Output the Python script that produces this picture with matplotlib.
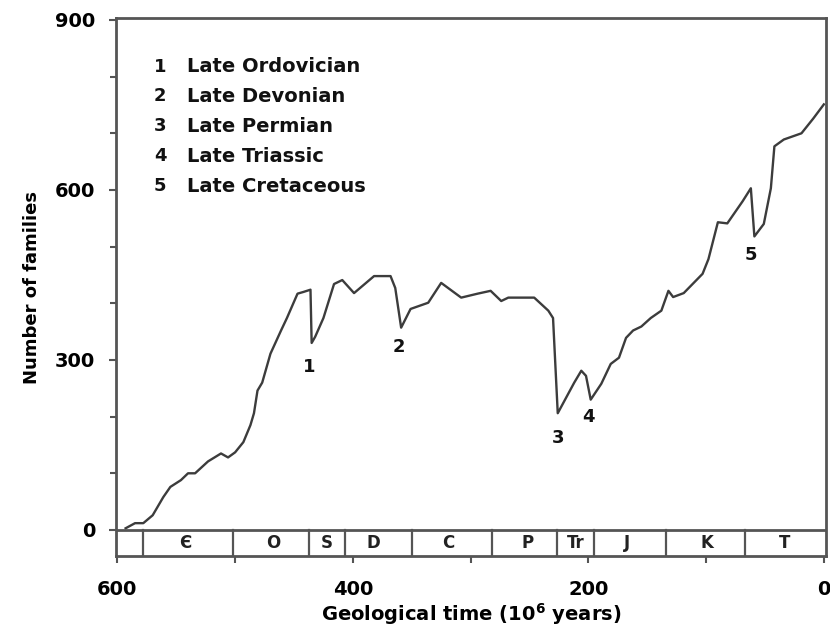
import matplotlib.pyplot as plt
from matplotlib.ticker import MultipleLocator

# marine family diversity (age in 10^6 years, families)
ages = [593, 585, 578, 570, 561, 555, 546, 540, 534, 523, 512, 506, 500, 493,
        487, 484, 481, 477, 470, 461, 456, 447, 442, 436, 435, 432, 425, 416,
        409, 399, 382, 368, 364, 359, 351, 336, 325, 308, 294, 283, 274, 268,
        246, 234, 230, 226, 212, 206, 202, 198, 189, 181, 174, 168, 162, 155,
        147, 138, 132, 128, 119, 103, 98, 90, 82, 69, 62, 59, 51, 45, 42, 34,
        19, 9, 0]
families = [3, 12, 12, 26, 58, 76, 88, 100, 100, 121, 135, 128, 137, 155,
            185, 206, 246, 260, 311, 352, 374, 417, 420, 424, 330, 341, 374, 434,
            441, 418, 448, 448, 427, 357, 390, 401, 436, 410, 417, 422, 404, 410,
            410, 387, 374, 206, 260, 281, 272, 230, 258, 293, 304, 339, 352, 359,
            374, 387, 422, 411, 418, 452, 478, 543, 541, 580, 603, 518, 540, 603, 677, 689,
            700, 726, 751]

# mass extinctions
event_numbers = ['1', '2', '3', '4', '5']
event_names = ['Late Ordovician', 'Late Devonian', 'Late Permian',
               'Late Triassic', 'Late Cretaceous']
event_ages = [437, 361, 226, 200, 62]
event_y = [288, 323, 163, 199, 485]

# geological periods along the bottom strip
period_bounds = [578, 502, 437, 407, 350, 282, 227, 195, 134, 67]
period_labels = ['Є', 'O', 'S', 'D', 'C', 'P', 'Tr', 'J', 'K', 'T']
period_mids = [542, 468, 422, 383, 319, 252, 211, 167, 99, 33]

strip = 46  # height of the period strip below zero, in families

plt.rcParams['font.family'] = 'DejaVu Sans'
plt.rcParams['font.weight'] = 'bold'

fig = plt.figure(figsize=(8.3, 6.29), dpi=100)
ax = fig.add_axes([0.140, 0.116, 0.855, 0.855])

ink = '#3c3c3c'
ax.plot(ages, families, color=ink, lw=1.7)

ax.set_xlim(601, -1.7)
ax.set_ylim(-strip, 903)

# period strip
ax.axhline(0, color='#555555', lw=2)
for b in period_bounds:
    ax.plot([b, b], [0, -strip], color='#555555', lw=1.6)
for lab, m in zip(period_labels, period_mids):
    ax.text(m, -strip / 2, lab, ha='center', va='center', fontsize=12,
            color='#222222')

# event numbers on the curve
for n, a, v in zip(event_numbers, event_ages, event_y):
    ax.text(a, v, n, ha='center', va='center', fontsize=13, color='#111111')

# key
for i, (n, name) in enumerate(zip(event_numbers, event_names)):
    y = 0.91 - i * 0.0555
    ax.text(0.062, y, n, transform=ax.transAxes, ha='center', va='center',
            fontsize=13, color='#111111')
    ax.text(0.10, y, name, transform=ax.transAxes, ha='left', va='center',
            fontsize=14, color='#111111')

for s in ax.spines.values():
    s.set_color('#555555')
    s.set_linewidth(2)

ax.xaxis.set_major_locator(MultipleLocator(200))
ax.xaxis.set_minor_locator(MultipleLocator(100))
ax.yaxis.set_minor_locator(MultipleLocator(100))
ax.set_yticks([0, 300, 600, 900])
ax.tick_params(which='both', direction='out', color='#555555', width=1.5)
ax.tick_params(axis='x', which='both', length=5, pad=12, labelsize=14)
ax.tick_params(axis='y', which='both', length=5, pad=10, labelsize=14)
ax.tick_params(axis='y', which='minor', length=4)

ax.set_xlabel('Geological time (10$^{\\mathbf{6}}$ years)', fontsize=14,
              fontweight='bold', labelpad=2)
ax.set_ylabel('Number of families', fontsize=13, fontweight='bold',
              labelpad=10)

fig.savefig('out.png', dpi=100)
